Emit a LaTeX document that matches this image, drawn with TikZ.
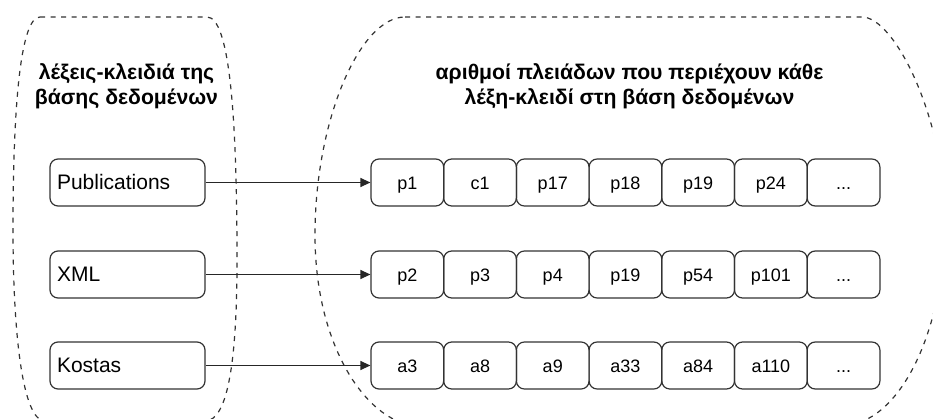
\documentclass[tikz,border=0pt]{standalone}
\usepackage{fontspec}
\setmainfont{Liberation Sans}
\usetikzlibrary{arrows.meta}
\begin{document}
\begin{tikzpicture}[x=1pt,y=-1pt,
  group/.style={draw=black!80, line width=1.2pt, dash pattern=on 5pt off 5.5pt},
  heading/.style={font=\bfseries\fontsize{21.2}{25}\selectfont, align=center, inner sep=0pt},
  keybox/.style={draw=black!80, line width=1.2pt, rounded corners=8pt,
    minimum width=155pt, minimum height=47pt, text width=141pt, inner xsep=7pt,
    inner ysep=0pt, text height=15pt, text depth=0.6pt,
    align=left, font=\fontsize{21}{25}\selectfont},
  cellbox/.style={draw=black!80, line width=1.2pt, rounded corners=8pt,
    minimum width=72.7pt, minimum height=47pt, inner sep=0pt,
    text height=14pt, text depth=0pt,
    font=\fontsize{18}{22}\selectfont},
  link/.style={draw=black!85, line width=1.2pt, -{Triangle[length=10pt,width=9pt]}}]
\useasboundingbox (0,0) rectangle (933,419);
\clip (0,0) rectangle (933,419);

% dashed outline around the keywords
\path[group] (40,17) -- (207,17)
  .. controls (230,17) and (237,120) .. (237,260)
  .. controls (237,360) and (228,421) .. (205,421)
  -- (45,421)
  .. controls (22,421) and (13,330) .. (13,230)
  .. controls (13,110) and (20,17) .. (40,17) -- cycle;

% dashed outline around the tuple lists
\path[group] (405,17) -- (862,17)
  .. controls (895,17) and (945,120) .. (945,220)
  .. controls (945,330) and (900,426) .. (840,426)
  -- (420,426)
  .. controls (370,426) and (315,350) .. (315,235)
  .. controls (315,120) and (360,17) .. (405,17) -- cycle;

\node[heading] (lefttitle) at (126.5,86.5) {λέξεις-κλειδιά της\\βάσης δεδομένων};
\node[heading] (righttitle) at (629.5,86.5) {αριθμοί πλειάδων που περιέχουν κάθε\\λέξη-κλειδί στη βάση δεδομένων};

\foreach \row/\y/\key/\cells in {
    1/182.5/Publications/{p1,c1,p17,p18,p19,p24},
    2/274.5/XML/{p2,p3,p4,p19,p54,p101},
    3/365.5/Kostas/{a3,a8,a9,a33,a84,a110}} {
  \node[keybox] (k\row) at (127.5,\y) {\key};
  \foreach \c [count=\i] in \cells {
    \node[cellbox] (c\row-\i) at ({407.35+(\i-1)*72.7},\y) {\c};
  }
  \node[cellbox] (c\row-7) at ({407.35+6*72.7},\y) {...};
  \draw[link] (k\row) -- (c\row-1);
}
\end{tikzpicture}
\end{document}
